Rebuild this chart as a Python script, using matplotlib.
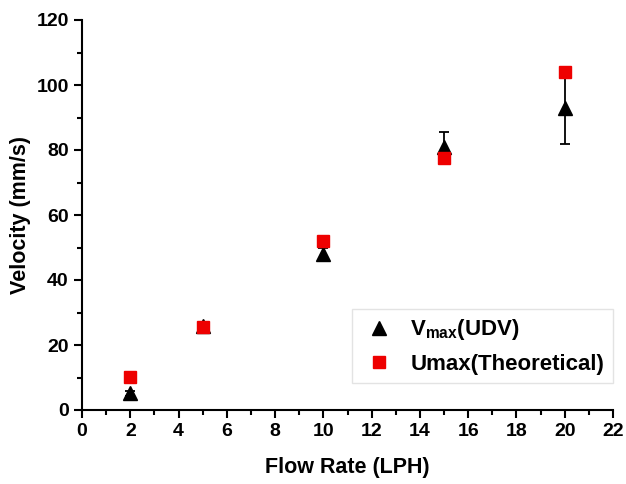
from matplotlib import pyplot as plt
from matplotlib.lines import Line2D
from matplotlib.ticker import MultipleLocator

plt.rcParams['font.family'] = 'Liberation Sans'
plt.rcParams['font.weight'] = 'bold'
plt.rcParams['mathtext.fontset'] = 'custom'
plt.rcParams['mathtext.bf'] = 'Liberation Sans:bold'
plt.rcParams['mathtext.rm'] = 'Liberation Sans:bold'
plt.rcParams['mathtext.default'] = 'bf'

flow = [2, 5, 10, 15, 20]
v_udv = [5.2, 26, 48, 81, 93]
v_err = [0.8, 1.0, 2.0, 4.5, 11]
u_theory = [10.2, 25.5, 52, 77.5, 104]

fig = plt.figure(figsize=(6.26, 4.84), dpi=100)
ax = fig.add_axes([82 / 626, 1 - 410 / 484, 531 / 626, 390 / 484])

ax.errorbar(flow, v_udv, yerr=v_err, fmt='^', color='black', ms=10,
            capsize=3.5, elinewidth=1.3, capthick=1.3, zorder=3)
ax.plot(flow, u_theory, 's', color='#ee0000', ms=8.5, zorder=4)

ax.set_xlim(0, 22)
ax.set_ylim(0, 120)
ax.xaxis.set_major_locator(MultipleLocator(2))
ax.xaxis.set_minor_locator(MultipleLocator(1))
ax.yaxis.set_major_locator(MultipleLocator(20))
ax.yaxis.set_minor_locator(MultipleLocator(10))
ax.spines['top'].set_visible(False)
ax.spines['right'].set_visible(False)
for s in ['left', 'bottom']:
    ax.spines[s].set_linewidth(1.5)
ax.tick_params(which='major', length=6, width=1.5, labelsize=14)
ax.tick_params(which='minor', length=3.5, width=1.5)

ax.set_xlabel('Flow Rate (LPH)', fontsize=15.5, fontweight='bold', labelpad=12)
ax.set_ylabel('Velocity (mm/s)', fontsize=15.5, fontweight='bold', labelpad=4)

handles = [
    Line2D([], [], marker='^', ls='none', color='black', ms=10),
    Line2D([], [], marker='s', ls='none', color='#ee0000', ms=8),
]
labels = [r'V$_{max}$(UDV)', 'Umax(Theoretical)']
leg = ax.legend(handles, labels, loc='lower right', bbox_to_anchor=(1.0, 0.068),
                borderaxespad=0, fontsize=16, frameon=True, fancybox=False,
                handlelength=1.6, handletextpad=0.6, borderpad=0.4,
                labelspacing=0.5)
leg.get_frame().set_edgecolor('#dddddd')
leg.get_frame().set_linewidth(1.0)

fig.savefig('out.png', dpi=100)
